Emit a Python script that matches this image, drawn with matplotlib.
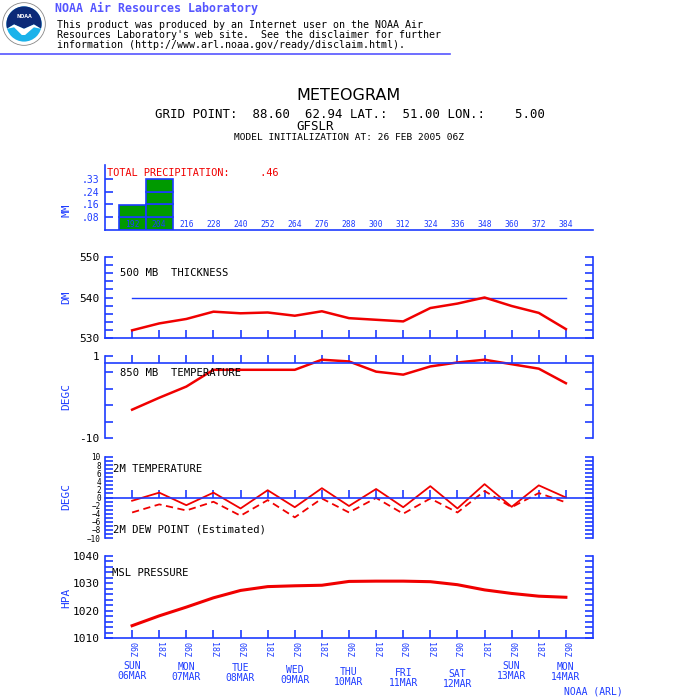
import numpy as np
import matplotlib
matplotlib.use("Agg")
import matplotlib.pyplot as plt
from matplotlib.patches import Circle, Polygon
from matplotlib.lines import Line2D
from matplotlib.transforms import blended_transform_factory

# forecast hours (init 26 FEB 2005 06Z)
hours = [192, 204, 216, 228, 240, 252, 264, 276, 288, 300, 312, 324, 336, 348, 360, 372, 384]
hour_labels = ["06Z", "18Z"] * 8 + ["06Z"]
day_names = ["SUN\n06MAR", "MON\n07MAR", "TUE\n08MAR", "WED\n09MAR", "THU\n10MAR",
             "FRI\n11MAR", "SAT\n12MAR", "SUN\n13MAR", "MON\n14MAR"]
day_hours = [192, 216, 240, 264, 288, 312, 336, 360, 384]

precip = [0.16, 0.33, 0, 0, 0, 0, 0, 0, 0, 0, 0, 0, 0, 0, 0, 0, 0]
precip_levels = [0, 0.0825, 0.165, 0.2475, 0.33]
precip_ticklabels = [".08", ".16", ".24", ".33"]

thickness = [531.9, 533.6, 534.7, 536.5, 536.1, 536.3, 535.5, 536.6, 534.9,
             534.5, 534.1, 537.4, 538.5, 540.0, 537.9, 536.2, 532.2]
t850 = [-6.2, -4.6, -3.1, -0.85, -0.85, -0.85, -0.85, 0.5, 0.27,
        -1.1, -1.5, -0.4, 0.13, 0.5, -0.1, -0.7, -2.65]
t2m = [-0.8, 1.2, -1.9, 1.2, -2.7, 1.8, -2.4, 2.3, -2.1,
       2.1, -2.4, 2.8, -2.7, 3.3, -2.3, 3.0, 0.0]
td2m = [-3.7, -1.7, -3.2, -1.05, -4.5, -0.65, -4.9, -0.25, -3.7,
        -0.1, -4.0, -0.25, -3.7, 1.6, -2.4, 1.1, -1.2]
mslp = [1014.5, 1018.1, 1021.3, 1024.7, 1027.4, 1028.8, 1029.1, 1029.3, 1030.7,
        1030.8, 1030.8, 1030.6, 1029.5, 1027.6, 1026.3, 1025.3, 1024.9]

BLUE = "#1e3cff"
RED = "#f00000"
GREEN = "#009a00"
HEAD = "#5555ff"
MONO = "DejaVu Sans Mono"

W = H = 700
fig = plt.figure(figsize=(7, 7), dpi=100)
plt.rcParams["font.family"] = MONO


def px_axes(x0, y0, x1, y1):
    return fig.add_axes([x0 / W, 1 - y1 / H, (x1 - x0) / W, (y1 - y0) / H])


def ftext(x, y, s, **kw):
    kw.setdefault("va", "center")
    return fig.text(x / W, 1 - y / H, s, **kw)


# ---- logo ----
lax = px_axes(2, 2, 46, 46)
lax.set_xlim(-1, 1)
lax.set_ylim(-1, 1)
lax.axis("off")
lax.add_patch(Circle((0, 0), 0.97, fc="white", ec="#888888", lw=0.6))
lax.add_patch(Circle((0, 0), 0.8, fc="#1ab2ea"))
t = np.radians(np.linspace(-15, 195, 40))
arc = np.column_stack([0.8 * np.cos(t), 0.8 * np.sin(t)])
navy = np.vstack([arc, [[-0.45, -0.02], [0, -0.22], [0.45, -0.02]]])
lax.add_patch(Polygon(navy, closed=True, fc="#0b2a78"))
gull = [[-0.78, -0.22], [-0.45, -0.02], [0, -0.22], [0.45, -0.02], [0.78, -0.22],
        [0.45, -0.15], [0.05, -0.5], [-0.1, -0.5], [-0.45, -0.15]]
lax.add_patch(Polygon(gull, closed=True, fc="white"))
lax.text(0, 0.35, "NOAA", color="white", fontsize=3.5, ha="center", va="center",
         fontweight="bold", family="DejaVu Sans")

# ---- header ----
ftext(55, 8, "NOAA Air Resources Laboratory", color=HEAD, fontsize=8.4, fontweight="bold")
ftext(57, 25, "This product was produced by an Internet user on the NOAA Air", fontsize=7.2)
ftext(57, 35, "Resources Laboratory's web site.  See the disclaimer for further", fontsize=7.2)
ftext(57, 45, "information (http://www.arl.noaa.gov/ready/disclaim.html).", fontsize=7.2)
fig.add_artist(Line2D([0, 450 / W], [1 - 54 / H, 1 - 54 / H], color=HEAD, lw=1.2,
                      transform=fig.transFigure))

ftext(349, 96, "METEOGRAM", fontsize=11.5, ha="center", family="DejaVu Sans")
ftext(350, 114, "GRID POINT:  88.60  62.94 LAT.:  51.00 LON.:    5.00", fontsize=8.9, ha="center")
ftext(315, 126, "GFSLR", fontsize=8.9, ha="center")
ftext(349, 138, "MODEL INITIALIZATION AT: 26 FEB 2005 06Z", fontsize=6.8, ha="center")

XL = (180, 396)


def style_panel(ax, right=True):
    ax.set_xlim(*XL)
    ax.spines["top"].set_visible(False)
    ax.spines["right"].set_visible(right)
    for s in ax.spines.values():
        s.set_color(BLUE)
        s.set_linewidth(1.2)
    ax.tick_params(axis="y", which="both", direction="in", length=6, width=1.2,
                   color=BLUE, left=True, right=right, labelsize=8, pad=4)
    ax.tick_params(axis="x", which="both", direction="in", length=6, width=1.2,
                   color=BLUE, labelbottom=False)
    ax.set_xticks(hours)
    ax.patch.set_alpha(0)


# ---- precipitation ----
ax = px_axes(105, 165, 593, 230)
style_panel(ax, right=False)
ax.set_ylim(0, 0.33 * 65 / 51)
for h, v in zip(hours, precip):
    for lo, hi in zip(precip_levels[:-1], precip_levels[1:]):
        if v > lo:
            ax.bar(h, min(v, hi) - lo, bottom=lo, width=12, color=GREEN,
                   edgecolor=BLUE, linewidth=1.2)
ax.set_yticks(precip_levels[1:])
ax.set_yticklabels(precip_ticklabels, color=BLUE, fontsize=7)
ax.tick_params(axis="x", length=0)
for h in hours:
    ax.text(h, 0.004, str(h), color=BLUE, fontsize=5.8, ha="center", va="bottom")
ftext(107, 173, "TOTAL PRECIPITATION:     .46", color=RED, fontsize=7.4)
ftext(66, 210, "MM", color=BLUE, fontsize=8, rotation=90, ha="center")

# ---- 500 mb thickness ----
ax = px_axes(105, 257, 593, 338)
style_panel(ax)
ax.set_ylim(530, 550)
ax.set_yticks([530, 540, 550])
ax.set_yticks(np.arange(530, 551, 2), minor=True)
ax.plot([hours[0], hours[-1]], [540, 540], color=BLUE, lw=1)
ax.plot(hours, thickness, color=RED, lw=1.8)
ftext(120, 273, "500 MB  THICKNESS", fontsize=7.6)
ftext(66, 297, "DM", color=BLUE, fontsize=8, rotation=90, ha="center")

# ---- 850 mb temperature ----
ax = px_axes(105, 356, 593, 438)
style_panel(ax)
ax.set_ylim(-10, 1)
ax.spines["bottom"].set_position(("data", 0))
ax.set_yticks(np.linspace(-10, 1, 6))
ax.set_yticklabels(["-10", "", "", "", "", "1"])
ax.plot(hours, t850, color=RED, lw=1.8)
ftext(120, 373, "850 MB  TEMPERATURE", fontsize=7.6)
ftext(66, 397, "DEGC", color=BLUE, fontsize=8, rotation=90, ha="center")

# ---- 2m temperature / dew point ----
ax = px_axes(105, 457, 593, 538)
style_panel(ax)
ax.set_ylim(-10, 10)
ax.spines["bottom"].set_position(("data", 0))
ax.set_yticks(np.arange(-10, 11, 2))
ax.set_yticks(np.arange(-10, 11, 1), minor=True)
ax.tick_params(axis="y", labelsize=5.5, pad=3)
ax.plot(hours, t2m, color=RED, lw=1.3)
ax.plot(hours, td2m, color=RED, lw=1.3, linestyle=(0, (4, 2.5)))
ftext(113, 469, "2M TEMPERATURE", fontsize=7.6)
ftext(113, 530, "2M DEW POINT (Estimated)", fontsize=7.6)
ftext(66, 497, "DEGC", color=BLUE, fontsize=8, rotation=90, ha="center")

# ---- MSL pressure ----
ax = px_axes(105, 556, 593, 638)
style_panel(ax)
ax.set_ylim(1010, 1040)
ax.set_yticks([1010, 1020, 1030, 1040])
ax.set_yticks(np.arange(1010, 1041, 2), minor=True)
ax.plot(hours, mslp, color=RED, lw=2.2)
ax.tick_params(axis="x", labelbottom=True, labelsize=6, labelcolor=BLUE, pad=3)
ax.set_xticklabels(hour_labels, rotation=-90, va="top", ha="center")
ftext(112, 573, "MSL PRESSURE", fontsize=7.6)
ftext(66, 598, "HPA", color=BLUE, fontsize=8, rotation=90, ha="center")

# day labels, slightly staggered like the original
day_dy = [0, 1, 2, 4, 6, 7, 8, 0, 1]
tr = blended_transform_factory(ax.transData, fig.transFigure)
for h, name, dy in zip(day_hours, day_names, day_dy):
    ax.text(h, 1 - (671 + dy) / H, name, transform=tr, color=BLUE, fontsize=7,
            ha="center", va="center", linespacing=1.0)

ftext(593, 691, "NOAA (ARL)", color=BLUE, fontsize=7, ha="center")

fig.savefig("out.png", dpi=100)
